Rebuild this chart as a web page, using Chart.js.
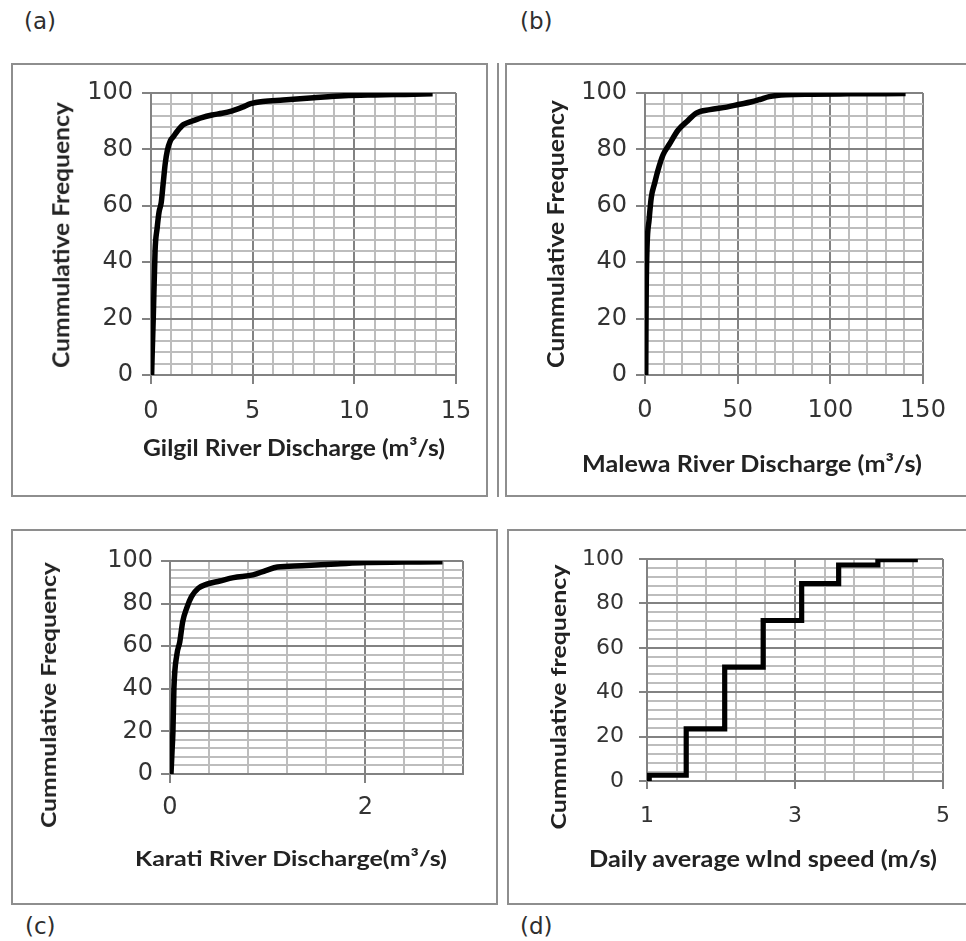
<!DOCTYPE html>
<html><head><meta charset="utf-8">
<script src="https://cdn.jsdelivr.net/npm/chart.js@4.4.0/dist/chart.umd.min.js"></script>
<style>
html,body{margin:0;padding:0;background:#fff;}
body{width:966px;height:941px;position:relative;overflow:hidden;}
.box{position:absolute;border:2px solid #8e8e8e;box-sizing:border-box;}
.vline{position:absolute;width:2px;background:#8e8e8e;}
canvas{position:absolute;}
.lab{position:absolute;font-family:"DejaVu Sans",sans-serif;font-size:23px;line-height:23px;color:#2e2e2e;white-space:nowrap;}
.ttl{position:absolute;left:0;top:0;font-family:Lato,"Open Sans",sans-serif;font-weight:bold;font-size:20px;line-height:1;color:#222;white-space:nowrap;transform-origin:0 0;}
</style></head><body>

<div class="lab" style="left:24px;top:10px">(a)</div>
<div class="lab" style="left:520px;top:10px">(b)</div>
<div class="lab" style="left:25px;top:915px">(c)</div>
<div class="lab" style="left:520px;top:915px">(d)</div>

<div class="box" style="left:11px;top:63px;width:477px;height:434px"></div>
<div class="vline" style="left:497px;top:63px;height:434px"></div>
<div class="box" style="left:505px;top:63px;width:470px;height:434px"></div>
<div class="box" style="left:11px;top:529px;width:487px;height:376px"></div>
<div class="box" style="left:507px;top:529px;width:470px;height:376px"></div>

<canvas id="ca" width="477" height="434" style="left:11px;top:63px"></canvas>
<canvas id="cb" width="465" height="434" style="left:505px;top:63px"></canvas>
<canvas id="cc" width="487" height="376" style="left:11px;top:529px"></canvas>
<canvas id="cd" width="463" height="376" style="left:507px;top:529px"></canvas>

<div class="ttl" id="ta_x">Gilgil River Discharge (m³/s)</div>
<div class="ttl" id="ta_y">Cummulative Frequency</div>
<div class="ttl" id="tb_x">Malewa River Discharge (m³/s)</div>
<div class="ttl" id="tb_y">Cummulative Frequency</div>
<div class="ttl" id="tc_x">Karati River Discharge(m³/s)</div>
<div class="ttl" id="tc_y">Cummulative Frequency</div>
<div class="ttl" id="td_x">Daily average wInd speed (m/s)</div>
<div class="ttl" id="td_y">Cummulative frequency</div>

<script>
// ---------------- DATA ----------------
const gilgilQ = [0.03, 0.06, 0.11, 0.2, 0.3, 0.4, 0.5, 0.6, 0.7, 0.8, 0.95, 1.1, 1.3, 1.6, 2.0, 2.5, 3.0, 3.5, 4.0, 4.5, 4.9, 5.5, 6.5, 8.0, 9.5, 11.0, 12.5, 13.85];
const gilgilF = [0, 8, 20, 44, 52, 58, 61, 68, 75, 79.5, 83, 84.5, 86.5, 88.8, 90, 91.3, 92.2, 92.8, 93.7, 95, 96.2, 97, 97.5, 98.3, 99, 99.3, 99.5, 99.7];

const malewaQ = [0.4, 0.5, 0.65, 1.1, 2.2, 3.4, 5.2, 7.0, 9.7, 13.3, 17.8, 22.3, 27.7, 35, 44, 51, 57, 62, 67, 76, 90, 110, 140.6];
const malewaF = [0, 15, 30, 45.5, 55, 63, 68, 72.6, 78, 82, 86.8, 89.7, 92.9, 94.1, 95, 96, 96.8, 97.7, 98.7, 99.4, 99.6, 99.7, 99.8];

const karatiQ = [0.01, 0.02, 0.03, 0.04, 0.07, 0.1, 0.13, 0.17, 0.22, 0.29, 0.37, 0.51, 0.65, 0.85, 0.98, 1.1, 1.35, 1.7, 2.0, 2.4, 2.79];
const karatiF = [0, 10, 20, 40, 56, 62, 71.5, 77.8, 83.3, 87.2, 89, 90.6, 92.2, 93.5, 95.5, 97.2, 97.8, 98.6, 99.3, 99.5, 99.7];

const windSpeed = [1.03, 1.03, 1.53, 2.05, 2.57, 3.09, 3.59, 4.12, 4.66];
const windF = [0, 2.6, 23.5, 51.3, 72.3, 88.9, 97.3, 99.7, 99.7];

const freqTicks = [0, 20, 40, 60, 80, 100];
const gilgilTicks = [0, 5, 10, 15];
const malewaTicks = [0, 50, 100, 150];
const karatiTicks = [0, 2];
const windTicks = [1, 3, 5];

// ---------------- HELPERS ----------------
const MAJOR = '#828282', MINOR = '#bdbdbd';
function gridValues(min, max, step) {
  const out = [];
  const n = Math.floor((max - min) / step + 1e-9);
  for (let i = 0; i <= n; i++) out.push(+(min + i * step).toFixed(6));
  if (Math.abs(out[out.length - 1] - max) > 1e-9) out.push(max);
  return out;
}
const has = (arr, v) => arr.some(a => Math.abs(a - v) < 1e-9);

function makeChart(id, cfg) {
  const {box, area, xs, ys, xMin, xMax, xStep, xLabels, yLabels, yStep,
         tickSize, xPad, yPad, tickLen, lineW, stepped} = cfg;
  const pts = xs.map((x, i) => ({x: x, y: ys[i]}));
  const gridColor = (labels, min, max) => c => {
    const v = c.tick ? c.tick.value : null;
    if (v === null) return MINOR;
    return (has(labels, v) || Math.abs(v - min) < 1e-9 || Math.abs(v - max) < 1e-9) ? MAJOR : MINOR;
  };
  const tickColor = labels => c => (c.tick && has(labels, c.tick.value)) ? MAJOR : 'rgba(0,0,0,0)';
  return new Chart(document.getElementById(id), {
    type: 'line',
    data: {datasets: [{
      data: pts, borderColor: '#000', borderWidth: lineW, pointRadius: 0,
      fill: false, stepped: stepped ? 'before' : false,
      cubicInterpolationMode: stepped ? 'default' : 'monotone',
      borderJoinStyle: stepped ? 'miter' : 'round', borderCapStyle: 'butt'
    }]},
    options: {
      responsive: false, animation: false, events: [],
      layout: {padding: {left: 0, top: area.t - box.y, right: box.x + box.w - area.r, bottom: 0}},
      plugins: {legend: {display: false}, tooltip: {enabled: false}},
      scales: {
        x: {
          type: 'linear', min: xMin, max: xMax,
          afterBuildTicks: s => { s.ticks = gridValues(xMin, xMax, xStep).map(v => ({value: v})); },
          afterFit: s => { s.height = box.y + box.h - area.b; },
          ticks: {autoSkip: false, maxRotation: 0, minRotation: 0, padding: xPad,
                  font: {family: 'DejaVu Sans', size: tickSize}, color: '#333',
                  callback: v => has(xLabels, v) ? String(v) : ''},
          grid: {color: gridColor(xLabels, xMin, xMax), lineWidth: 2, tickLength: tickLen,
                 tickColor: tickColor(xLabels), tickWidth: 2},
          border: {color: MAJOR, width: 2}
        },
        y: {
          type: 'linear', min: 0, max: 100,
          afterBuildTicks: s => { s.ticks = gridValues(0, 100, yStep).map(v => ({value: v})); },
          afterFit: s => { s.width = area.l - box.x; },
          ticks: {autoSkip: false, padding: yPad,
                  font: {family: 'DejaVu Sans', size: tickSize}, color: '#333',
                  callback: v => has(yLabels, v) ? String(v) : ''},
          grid: {color: gridColor(yLabels, 0, 100), lineWidth: 2, tickLength: tickLen,
                 tickColor: tickColor(yLabels), tickWidth: 2},
          border: {color: MAJOR, width: 2}
        }
      }
    }
  });
}

makeChart('ca', {box: {x: 11, y: 63, w: 477, h: 434}, area: {l: 151, t: 93, r: 456, b: 375},
  xs: gilgilQ, ys: gilgilF, xMin: 0, xMax: 15, xStep: 1, xLabels: gilgilTicks, yLabels: freqTicks, yStep: 4,
  tickSize: 24, xPad: 13, yPad: 9, tickLen: 9, lineW: 5.5});
makeChart('cb', {box: {x: 505, y: 63, w: 465, h: 434}, area: {l: 645, t: 93, r: 923, b: 375},
  xs: malewaQ, ys: malewaF, xMin: 0, xMax: 150, xStep: 10, xLabels: malewaTicks, yLabels: freqTicks, yStep: 4,
  tickSize: 24, xPad: 12, yPad: 9, tickLen: 9, lineW: 5.5});
makeChart('cc', {box: {x: 11, y: 529, w: 487, h: 376}, area: {l: 170, t: 561, r: 463, b: 774},
  xs: karatiQ, ys: karatiF, xMin: 0, xMax: 3, xStep: 0.4, xLabels: karatiTicks, yLabels: freqTicks, yStep: 4,
  tickSize: 24, xPad: 10, yPad: 8, tickLen: 9, lineW: 5.5});
makeChart('cd', {box: {x: 507, y: 529, w: 463, h: 376}, area: {l: 647, t: 559, r: 943, b: 781},
  xs: windSpeed, ys: windF, xMin: 1, xMax: 5, xStep: 0.4, xLabels: windTicks, yLabels: freqTicks, yStep: 4,
  tickSize: 22, xPad: 14, yPad: 15, tickLen: 8, lineW: 5.2, stepped: true});

// ---------------- AXIS TITLES (real text, placed to match reference) ----------------
function placeTitle(id, cx, cy, len, cap, vertical) {
  const el = document.getElementById(id);
  el.style.fontSize = '20px';
  const w0 = el.getBoundingClientRect().width;
  const fs = 20 * len / w0;
  el.style.fontSize = fs.toFixed(2) + 'px';
  const r = el.getBoundingClientRect();
  const w = r.width, h = r.height;
  const sy = cap / (0.7165 * fs);
  el.style.transform = `translate(${cx}px,${cy}px) rotate(${vertical ? -90 : 0}deg) scale(1,${sy.toFixed(3)}) translate(${-w / 2}px,${-h / 2}px)`;
}
placeTitle('ta_x', 294, 448, 302, 17, false);
placeTitle('ta_y', 61, 235, 266, 17, true);
placeTitle('tb_x', 752, 463.5, 340, 17, false);
placeTitle('tb_y', 556, 234, 268, 16, true);
placeTitle('tc_x', 291, 857.5, 312, 15.5, false);
placeTitle('tc_y', 49, 695, 266, 15, true);
placeTitle('td_x', 763, 858.5, 348, 16, false);
placeTitle('td_y', 558, 697, 265, 15, true);
</script>
</body></html>
